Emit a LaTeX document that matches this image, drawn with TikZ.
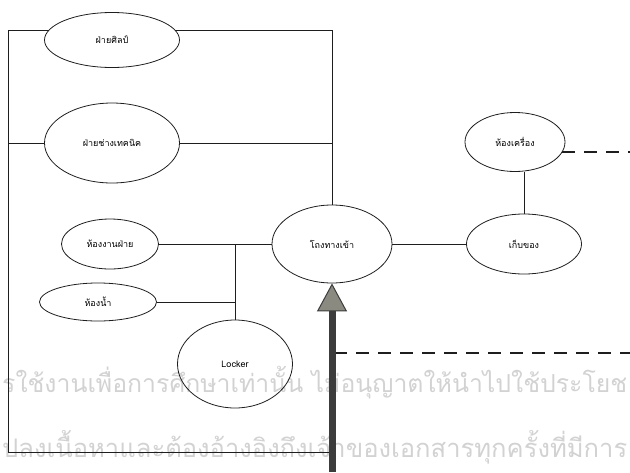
\documentclass[tikz,border=0pt]{standalone}
\usepackage{fontspec}
\newfontfamily\thaifont[Script=Thai]{Loma}
\usetikzlibrary{arrows.meta,shapes.geometric}
\definecolor{ink}{HTML}{1E1E1E}
\definecolor{wmark}{HTML}{D2D2D2}
\definecolor{shaft}{HTML}{3C3C3C}
\definecolor{headfill}{HTML}{8A8A80}
\tikzset{
  room/.style  ={draw=ink, ellipse, inner sep=0pt, line width=0.8pt,
                 font=\thaifont\fontsize{9}{11}\selectfont},
  ln/.style    ={draw=ink, line width=0.8pt},
  lndash/.style={draw=ink, line width=1.8pt, dash pattern=on 13pt off 9pt},
  entry/.style ={draw=shaft, line width=7pt,
                 -{Triangle[length=28pt,width=30pt,fill=headfill,line width=1pt]}},
  wm/.style    ={text=wmark, anchor=west, inner sep=0pt,
                 font=\thaifont\fontsize{27}{30}\selectfont},
}

\begin{document}
\begin{tikzpicture}[x=1pt,y=-1pt]
\useasboundingbox (0,0) rectangle (630,472);
% faint rows behind the plan
\node[wm] (wmone) at (2,383) {\resizebox{625pt}{!}{รใช้งานเพื่อการศึกษาเท่านั้น ไม่อนุญาตให้นำไปใช้ประโยช}};
\node[wm] (wmtwo) at (2,447) {\resizebox{625pt}{!}{ปลงเนื้อหาและต้องอ้างอิงถึงเจ้าของเอกสารทุกครั้งที่มีการ}};
% rooms
\node[room, minimum width=135pt, minimum height=55pt] (art) at (112,40) {ฝ่ายศิลป์};
\node[room, minimum width=135pt, minimum height=80pt] (tech) at (112,143) {ฝ่ายช่างเทคนิค};
\node[room, minimum width=97pt, minimum height=50pt] (office) at (110,244) {ห้องงานฝ่าย};
\node[room, minimum width=117pt, minimum height=38pt] (bath) at (98,302) {ห้องน้ำ};
\node[room, minimum width=115pt, minimum height=88pt] (locker) at (235,364) {Locker};
\node[room, minimum width=120pt, minimum height=78pt] (hall) at (332,244) {โถงทางเข้า};
\node[room, minimum width=100pt, minimum height=59pt] (machine) at (515,142) {ห้องเครื่อง};
\node[room, minimum width=115pt, minimum height=60pt] (store) at (524,244) {เก็บของ};
\coordinate (bl) at (8,452);
\coordinate (entry) at (332,472);
\coordinate (split) at (334,353);
\coordinate (rim) at (632,0);
\coordinate (jn) at (235,244);
% links
\draw[ln] (art.171) -| (bl) -- (bl -| entry);
\draw[ln] (art.9) -| (hall.north);
\draw[ln] (tech.west) -- (tech.west -| bl);
\draw[ln] (tech.east) -- (tech.east -| hall.north);
\draw[ln] (office.east) -- (hall.west);
\draw[ln] (bath.east) -- (bath.east -| jn);
\draw[ln] (jn) -- (locker.north);
\draw[ln] (hall.east) -- (store.west);
\draw[ln] (store.north) -- (store.north |- machine.south);
\draw[lndash] (machine.-12) -- (machine.-12 -| rim);
\draw[lndash] (split) -- (split -| rim);
\draw[entry] (entry) -- (hall.south);
\end{tikzpicture}
\end{document}
